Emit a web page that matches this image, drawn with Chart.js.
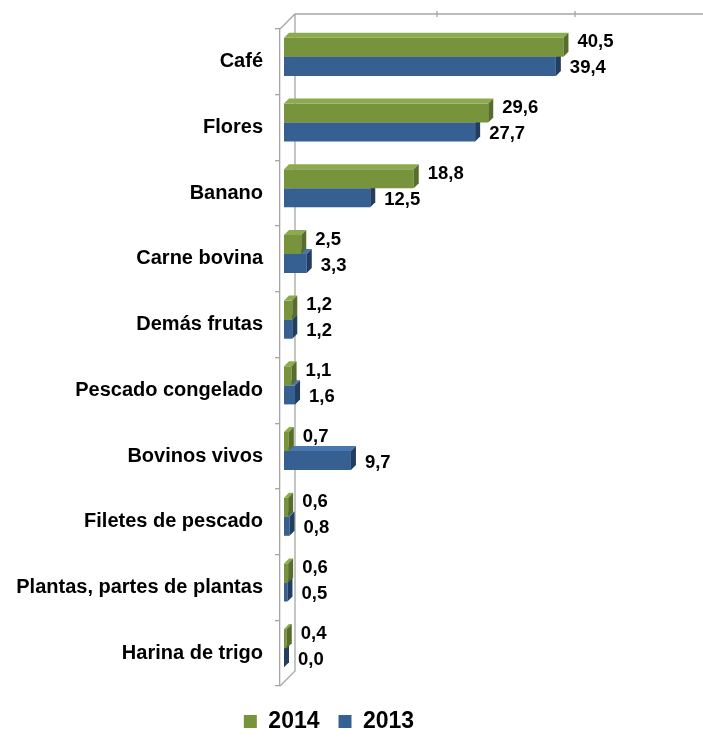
<!DOCTYPE html>
<html>
<head>
<meta charset="utf-8">
<script src="https://cdn.jsdelivr.net/npm/chart.js@4/dist/chart.umd.min.js"></script>
<style>
  html, body { margin: 0; padding: 0; background: #ffffff; }
  #wrap { width: 703px; height: 738px; position: relative; }
</style>
</head>
<body>
<div id="wrap"><canvas id="c" width="703" height="738"></canvas></div>
<script>
const categories = ["Café", "Flores", "Banano", "Carne bovina", "Demás frutas", "Pescado congelado", "Bovinos vivos", "Filetes de pescado", "Plantas, partes de plantas", "Harina de trigo"];
const values2014 = [40.5, 29.6, 18.8, 2.5, 1.2, 1.1, 0.7, 0.6, 0.6, 0.4];
const values2013 = [39.4, 27.7, 12.5, 3.3, 1.2, 1.6, 9.7, 0.8, 0.5, 0.0];
const seriesLabels = ["2014", "2013"];
const xTicks = [0, 20, 40, 60];

const FONT = "'Liberation Sans', Arial, sans-serif";
const GREEN = "#77933C", BLUE = "#376092";
const faceColors = [
  { top: "#8dab4e", side: "#566d2b" },
  { top: "#4a77ad", side: "#213d60" }
];
const WALL = 15, DEPTH = 5, SHIFT_X = 4, SHIFT_Y = -5;
const LEGEND_DX = -18, LEGEND_DY = 5;

const legendShift = {
  id: "legendShift",
  afterLayout(chart) {
    const lg = chart.legend;
    if (!lg) return;
    lg.left += LEGEND_DX; lg.right += LEGEND_DX;
    lg.top += LEGEND_DY; lg.bottom += LEGEND_DY;
  }
};

const bar3d = {
  id: "bar3d",
  beforeDatasetsDraw(chart) {
    const { ctx, chartArea: a } = chart;
    const xs = chart.scales.x;
    ctx.save();
    ctx.strokeStyle = "#a6a6a6";
    ctx.lineWidth = 1.3;
    ctx.beginPath();
    ctx.moveTo(a.left, a.top);
    ctx.lineTo(a.left + WALL, a.top - WALL);
    ctx.lineTo(chart.width, a.top - WALL);
    ctx.moveTo(a.left + WALL, a.top - WALL);
    ctx.lineTo(a.left + WALL, a.bottom - WALL);
    ctx.lineTo(a.left, a.bottom);
    xTicks.forEach(v => {
      const px = xs.getPixelForValue(v) + WALL + SHIFT_X;
      if (v > 0) {
        ctx.moveTo(px, a.top - WALL - 3);
        ctx.lineTo(px, a.top - WALL + 3);
      }
    });
    ctx.stroke();
    ctx.restore();
    ctx.save();
    ctx.translate(SHIFT_X, SHIFT_Y);
  },
  afterDatasetDraw(chart, args) {
    const { ctx } = chart;
    const fc = faceColors[args.index];
    args.meta.data.forEach(el => {
      const p = el.getProps(["x", "y", "base", "height"], true);
      const x0 = Math.min(p.base, p.x), x1 = Math.max(p.base, p.x);
      const y0 = p.y - p.height / 2, y1 = p.y + p.height / 2;
      ctx.fillStyle = fc.top;
      ctx.beginPath();
      ctx.moveTo(x0, y0);
      ctx.lineTo(x1, y0);
      ctx.lineTo(x1 + DEPTH, y0 - DEPTH);
      ctx.lineTo(x0 + DEPTH, y0 - DEPTH);
      ctx.closePath();
      ctx.fill();
      ctx.fillStyle = fc.side;
      ctx.beginPath();
      ctx.moveTo(x1, y0);
      ctx.lineTo(x1 + DEPTH, y0 - DEPTH);
      ctx.lineTo(x1 + DEPTH, y1 - DEPTH);
      ctx.lineTo(x1, y1);
      ctx.closePath();
      ctx.fill();
    });
  },
  afterDatasetsDraw(chart) {
    const { ctx } = chart;
    ctx.font = "bold 18.5px " + FONT;
    ctx.fillStyle = "#000000";
    ctx.textAlign = "left";
    ctx.textBaseline = "middle";
    chart.data.datasets.forEach((ds, i) => {
      const meta = chart.getDatasetMeta(i);
      meta.data.forEach((el, j) => {
        const p = el.getProps(["x", "y"], true);
        const txt = ds.data[j].toFixed(1).replace(".", ",");
        const dy = i === 0 ? -5 : 2;
        ctx.fillText(txt, p.x + 14, p.y + dy);
      });
    });
    ctx.restore();
  }
};

new Chart(document.getElementById("c"), {
  type: "bar",
  data: {
    labels: categories,
    datasets: [
      { label: seriesLabels[0], data: values2014, backgroundColor: GREEN, borderWidth: 0, categoryPercentage: 0.58, barPercentage: 1 },
      { label: seriesLabels[1], data: values2013, backgroundColor: BLUE, borderWidth: 0, categoryPercentage: 0.58, barPercentage: 1 }
    ]
  },
  options: {
    indexAxis: "y",
    responsive: false,
    animation: false,
    devicePixelRatio: 1,
    layout: { padding: { left: 0, top: 29, right: 9, bottom: 0 } },
    scales: {
      x: { display: false, min: 0, max: 60 },
      y: {
        afterFit(scale) { scale.width = 280; },
        border: { display: true, color: "#a6a6a6", width: 1.3 },
        grid: { offset: true, drawOnChartArea: false, drawTicks: true, tickLength: 5, color: "#a6a6a6", lineWidth: 1.3 },
        ticks: { color: "#000000", padding: 12, font: { family: FONT, size: 20, weight: "bold" } }
      }
    },
    plugins: {
      legend: {
        position: "bottom",
        labels: { boxWidth: 13, boxHeight: 13, padding: 19, color: "#000000", font: { family: FONT, size: 23, weight: "bold" } }
      },
      tooltip: { enabled: false }
    }
  },
  plugins: [bar3d, legendShift]
});
</script>
</body>
</html>
